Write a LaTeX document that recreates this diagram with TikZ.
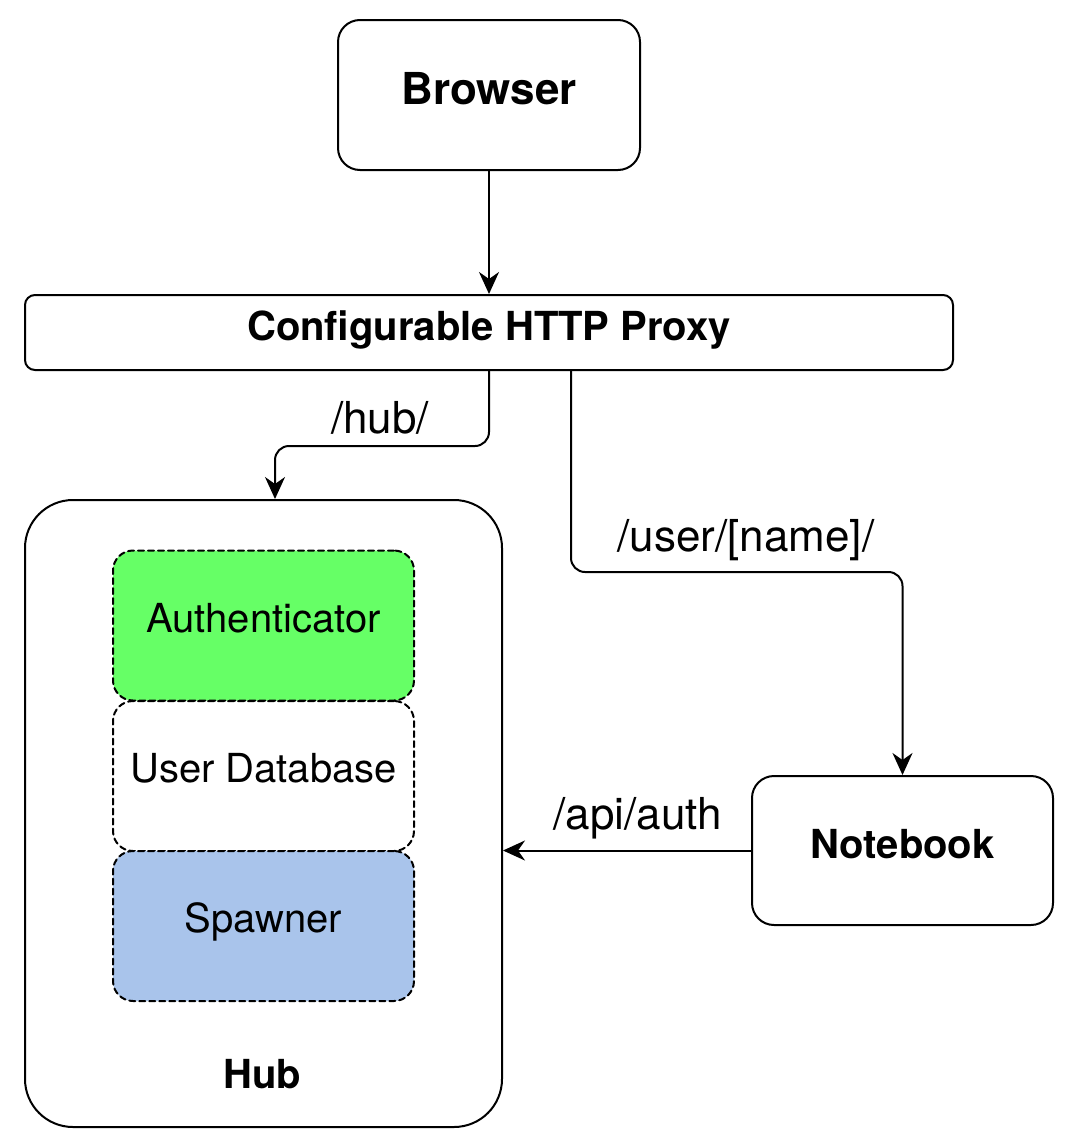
\documentclass[tikz,border=0pt]{standalone}
\usepackage{fontspec}
\setmainfont{TeX Gyre Heros}
\usetikzlibrary{arrows.meta}
\definecolor{authgreen}{HTML}{66FF66}
\definecolor{spawnblue}{HTML}{A9C4EB}
\tikzset{
  box/.style={draw, line width=1pt, rounded corners=11pt, inner sep=0pt, text depth=6.5pt,
    font=\fontsize{20}{24}\selectfont\bfseries},
  part/.style={draw, dash pattern=on 3pt off 2pt, line width=1pt, rounded corners=10pt,
    minimum width=150.5pt, minimum height=75pt, inner sep=0pt, text depth=8pt,
    font=\fontsize{20}{24}\selectfont},
  route/.style={inner sep=0pt, font=\fontsize{22}{26}\selectfont},
  link/.style={line width=1pt, -{Stealth[length=11pt,width=10pt,inset=3.5pt]}, rounded corners=7pt},
}
\begin{document}
\begin{tikzpicture}[line cap=round,line join=round,x=0.5pt,y=-0.5pt]
\useasboundingbox (0,0) rectangle (1076,1146);
% boxes
\node[box, minimum width=151pt, minimum height=75pt, text depth=7pt, font=\fontsize{22}{26}\selectfont\bfseries] (browser) at (489,95) {Browser};
\node[box, rounded corners=5pt, minimum width=464pt, minimum height=37.5pt] (proxy) at (489,332.5) {Configurable HTTP Proxy};
\node[box, rounded corners=24pt, minimum width=238.5pt, minimum height=313.5pt] (hub) at (263.5,813.5) {};
\node[font=\fontsize{20}{24}\selectfont\bfseries] (hubname) at (262,1074) {Hub};
\node[part, fill=authgreen] (auth) at (263.5,625.5) {Authenticator};
\node[part] (userdb) at (263.5,776) {User Database};
\node[part, fill=spawnblue] (spawner) at (263.5,926) {Spawner};
\node[box, minimum width=150.5pt, minimum height=74.5pt] (notebook) at (902.5,850.5) {Notebook};
% connectors
\draw[link] (browser) -- (proxy);
\draw[link] (proxy.south) -- ++(0,75) -| ([xshift=5.75pt]hub.north);
\draw[link] ([xshift=41pt]proxy.south) -- ++(0,201) -| (notebook.north);
\draw[link] (notebook.west) -- (notebook.west -| hub.east);
% route labels
\node[route] (hublbl) at (380,418) {/hub/};
\node[route] (userlbl) at (746,540) {/user/[name]/};
\node[route] (apilbl) at (638,818) {/api/auth};
\end{tikzpicture}
\end{document}
